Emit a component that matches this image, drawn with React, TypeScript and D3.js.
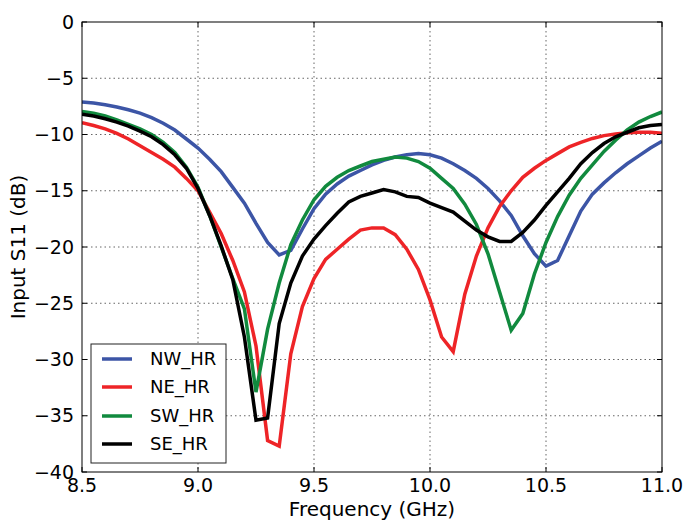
import React from 'react';
import { scaleLinear, line, format } from 'd3';

const freq = [
  8.5, 8.55, 8.6, 8.65, 8.7, 8.75, 8.8, 8.85, 8.9, 8.95,
  9.0, 9.05, 9.1, 9.15, 9.2, 9.25, 9.3, 9.35, 9.4, 9.45,
  9.5, 9.55, 9.6, 9.65, 9.7, 9.75, 9.8, 9.85, 9.9, 9.95,
  10.0, 10.05, 10.1, 10.15, 10.2, 10.25, 10.3, 10.35, 10.4, 10.45,
  10.5, 10.55, 10.6, 10.65, 10.7, 10.75, 10.8, 10.85, 10.9, 10.95, 11.0,
];

const nwHR = [
  -7.1, -7.2, -7.35, -7.55, -7.8, -8.1, -8.5, -9.0, -9.6, -10.4,
  -11.2, -12.2, -13.3, -14.7, -16.1, -17.9, -19.6, -20.7, -20.3, -18.4,
  -16.6, -15.3, -14.4, -13.7, -13.2, -12.7, -12.3, -12.0, -11.8, -11.7,
  -11.8, -12.1, -12.6, -13.2, -13.9, -14.8, -15.9, -17.2, -19.0, -20.6,
  -21.7, -21.2, -19.0, -16.8, -15.3, -14.3, -13.4, -12.6, -11.9, -11.2, -10.6,
];

const neHR = [
  -8.95, -9.2, -9.5, -9.9, -10.4, -11.0, -11.6, -12.2, -12.9, -13.9,
  -15.0, -16.9, -18.8, -21.2, -24.0, -28.8, -37.2, -37.7, -29.5, -25.3,
  -22.8, -21.1, -20.2, -19.3, -18.5, -18.3, -18.3, -18.9, -20.2, -22.0,
  -24.7, -28.0, -29.3, -24.2, -20.8, -18.3, -16.4, -15.0, -13.8, -13.0,
  -12.3, -11.7, -11.1, -10.7, -10.35, -10.1, -9.95, -9.85, -9.8, -9.8, -9.9,
];

const swHR = [
  -7.95, -8.1, -8.35, -8.7, -9.1, -9.5, -10.0, -10.7, -11.6, -12.9,
  -14.7, -17.2, -20.0, -22.8, -25.5, -32.9, -27.3, -23.2, -19.8, -17.6,
  -15.8, -14.6, -13.8, -13.2, -12.8, -12.4, -12.2, -12.0, -12.1, -12.4,
  -13.0, -13.9, -14.8, -16.2, -18.0, -20.6, -24.0, -27.4, -25.9, -22.4,
  -19.6, -17.3, -15.4, -13.9, -12.7, -11.5, -10.5, -9.6, -8.9, -8.4, -8.0,
];

const seHR = [
  -8.2, -8.35, -8.6, -8.9, -9.25, -9.7, -10.2, -10.9, -11.8, -13.0,
  -14.8, -17.2, -19.9, -22.9, -28.0, -35.4, -35.2, -26.8, -23.2, -20.8,
  -19.3, -18.1, -17.0, -16.0, -15.5, -15.2, -14.9, -15.1, -15.5, -15.6,
  -16.1, -16.5, -16.9, -17.7, -18.5, -19.1, -19.5, -19.5, -18.7, -17.6,
  -16.3, -15.1, -13.9, -12.6, -11.6, -10.8, -10.2, -9.8, -9.4, -9.2, -9.1,
];

const seriesNames = ['NW_HR', 'NE_HR', 'SW_HR', 'SE_HR'];
const seriesValues = [nwHR, neHR, swHR, seHR];
const seriesColors = ['#3c55a6', '#ee2427', '#118a3e', '#000000'];

const xTicks = [8.5, 9.0, 9.5, 10.0, 10.5, 11.0];
const yTicks = [0, -5, -10, -15, -20, -25, -30, -35, -40];

const W = 684;
const H = 521;
const margin = { top: 22, right: 22, bottom: 49, left: 82 };
const font = '"DejaVu Sans", sans-serif';

export default function App() {
  const iw = W - margin.left - margin.right;
  const ih = H - margin.top - margin.bottom;

  const x = scaleLinear().domain([8.5, 11.0]).range([0, iw]);
  const y = scaleLinear().domain([-40, 0]).range([ih, 0]);

  const fx = format('.1f');
  const fy = format('d');

  const path = line<number>()
    .x((_, i) => x(freq[i]))
    .y((d) => y(d));

  const legend = { x: 9, y: 322, w: 135, h: 119, row: 28 };

  return (
    <svg
      width={W}
      height={H}
      style={{ position: 'absolute', left: 0, top: 0, background: '#fff' }}
      fontFamily={font}
    >
      <g transform={`translate(${margin.left},${margin.top})`}>
        {/* grid */}
        {xTicks.slice(1, -1).map((t) => (
          <line key={'gx' + t} x1={x(t)} x2={x(t)} y1={0} y2={ih}
            stroke="#666" strokeWidth={1} strokeDasharray="1.5,3" />
        ))}
        {yTicks.slice(1, -1).map((t) => (
          <line key={'gy' + t} x1={0} x2={iw} y1={y(t)} y2={y(t)}
            stroke="#666" strokeWidth={1} strokeDasharray="1.5,3" />
        ))}

        {/* series */}
        <g clipPath="url(#plotclip)">
          {seriesValues.map((vals, i) => (
            <path key={seriesNames[i]} d={path(vals) || ''} fill="none"
              stroke={seriesColors[i]} strokeWidth={3.5} strokeLinejoin="miter" />
          ))}
        </g>
        <defs>
          <clipPath id="plotclip">
            <rect x={0} y={0} width={iw} height={ih} />
          </clipPath>
        </defs>

        {/* ticks inside on all sides */}
        {xTicks.map((t) => (
          <g key={'tx' + t}>
            <line x1={x(t)} x2={x(t)} y1={ih} y2={ih - 5} stroke="#000" />
            <line x1={x(t)} x2={x(t)} y1={0} y2={5} stroke="#000" />
            <text x={x(t)} y={ih + 20} textAnchor="middle" fontSize={19} fill="#000">
              {fx(t)}
            </text>
          </g>
        ))}
        {yTicks.map((t) => (
          <g key={'ty' + t}>
            <line x1={0} x2={5} y1={y(t)} y2={y(t)} stroke="#000" />
            <line x1={iw} x2={iw - 5} y1={y(t)} y2={y(t)} stroke="#000" />
            <text x={-8} y={y(t)} dy="0.35em" textAnchor="end" fontSize={19} fill="#000">
              {fy(t).replace('-', '\u2212')}
            </text>
          </g>
        ))}

        {/* frame */}
        <rect x={0} y={0} width={iw} height={ih} fill="none" stroke="#000" strokeWidth={1} />

        {/* legend */}
        <g transform={`translate(${legend.x},${legend.y})`}>
          <rect x={0} y={0} width={legend.w} height={legend.h} fill="#fff" stroke="#222" strokeWidth={1} />
          {seriesNames.map((name, i) => (
            <g key={'lg' + name} transform={`translate(0,${15 + i * legend.row + (i > 1 ? 1 : 0)})`}>
              <line x1={11} x2={41} y1={0} y2={0} stroke={seriesColors[i]} strokeWidth={3.5} />
              <text x={59} y={0} dy="0.35em" fontSize={18} fill="#000">{name}</text>
            </g>
          ))}
        </g>

        {/* axis titles */}
        <text x={iw / 2} y={ih + 44} textAnchor="middle" fontSize={20} fill="#000">
          Frequency (GHz)
        </text>
        <text transform={`translate(${-57},${ih / 2}) rotate(-90)`} textAnchor="middle" fontSize={20} fill="#000">
          Input S11 (dB)
        </text>
      </g>
    </svg>
  );
}
